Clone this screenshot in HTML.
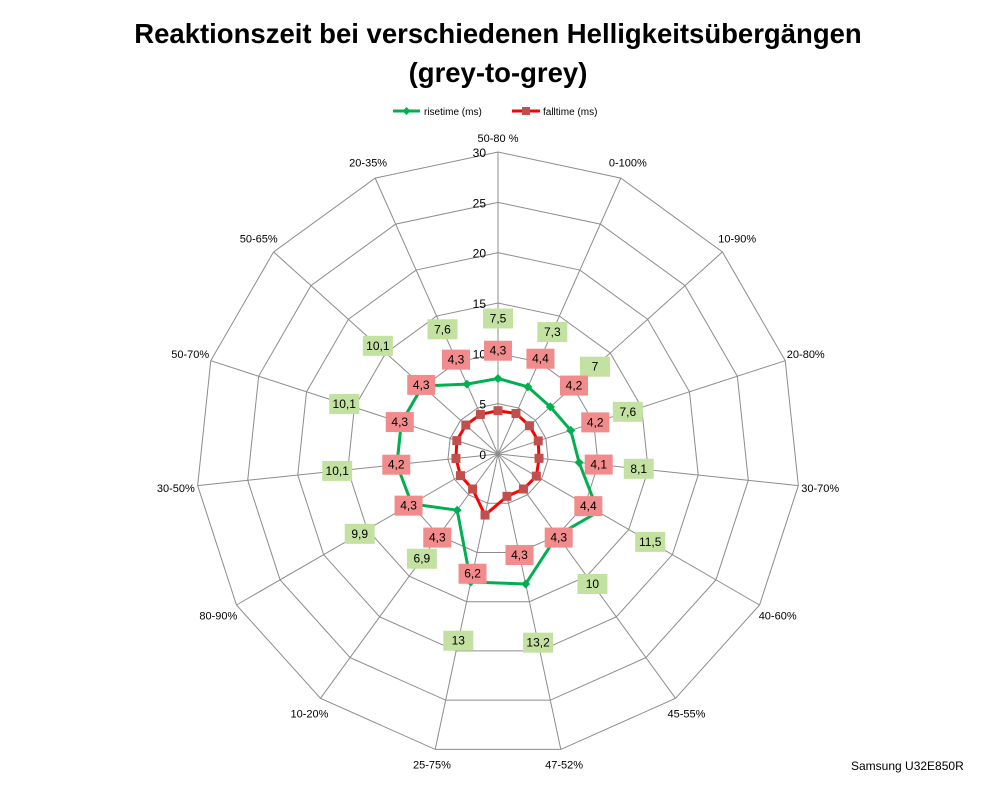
<!DOCTYPE html>
<html><head><meta charset="utf-8"><style>
body{margin:0;background:#fff;font-family:"Liberation Sans",sans-serif}
svg{display:block}
</style></head><body>
<svg id="chart" width="998" height="786" viewBox="0 0 998 786" xmlns="http://www.w3.org/2000/svg">
<text x="498" y="43" text-anchor="middle" font-size="27.5" font-weight="bold" font-family="Liberation Sans, sans-serif">Reaktionszeit bei verschiedenen Helligkeitsübergängen</text>
<text x="498" y="82" text-anchor="middle" font-size="27.5" font-weight="bold" font-family="Liberation Sans, sans-serif">(grey-to-grey)</text>
<g font-size="10">
<line x1="393" y1="111" x2="420" y2="111" stroke="#00b050" stroke-width="3"/>
<path d="M406.5 107 L410.5 111 L406.5 115 L402.5 111Z" fill="#00b050"/>
<text x="424" y="115">risetime (ms)</text>
<line x1="512" y1="111" x2="540" y2="111" stroke="#ff0000" stroke-width="3"/>
<rect x="522" y="107" width="8" height="8" fill="#c0504d"/>
<text x="543" y="115">falltime (ms)</text>
</g>
<g id="plot"></g>
<text x="851" y="770" font-size="12">Samsung U32E850R</text>
</svg>
<script>
const categories=["50-80 %","0-100%","10-90%","20-80%","30-70%","40-60%","45-55%","47-52%","25-75%","10-20%","80-90%","30-50%","50-70%","50-65%","20-35%"];
const riseValues=[7.5,7.3,7,7.6,8.1,11.5,10,13.2,13,6.9,9.9,10.1,10.1,10.1,7.6];
const fallValues=[4.3,4.4,4.2,4.2,4.1,4.4,4.3,4.3,6.2,4.3,4.3,4.2,4.3,4.3,4.3];
const tickLabels=[0,5,10,15,20,25,30];
const cx=498,cy=454,R=302,maxV=30,N=categories.length;
const ns="http://www.w3.org/2000/svg";
const g=document.getElementById('plot');
function ang(i){return -Math.PI/2+i*2*Math.PI/N;}
function pt(i,v){const r=v/maxV*R;return [cx+r*Math.cos(ang(i)),cy+r*Math.sin(ang(i))];}
function mk(t,a){const e=document.createElementNS(ns,t);for(const k in a)e.setAttribute(k,a[k]);g.appendChild(e);return e;}
tickLabels.forEach(t=>{if(t===0)return;
 const p=categories.map((c,i)=>pt(i,t).join(',')).join(' ');
 const e=mk('polygon',{points:p,fill:'none',stroke:'#8c8c8c','stroke-width':1});
 
 });
categories.forEach((c,i)=>{const p=pt(i,maxV);
 const e=mk('line',{x1:cx,y1:cy,x2:p[0],y2:p[1],stroke:'#8c8c8c','stroke-width':1});
 
 
 const a=ang(i);const r=R+14+8*Math.abs(Math.cos(a));
 const tx=mk('text',{x:cx+r*Math.cos(a),y:cy+r*Math.sin(a)+4,'text-anchor':'middle','font-size':11});
 tx.textContent=c;
 
 });
tickLabels.forEach(t=>{const y=cy-t/maxV*R;
 const e=mk('text',{x:cx-12,y:y+5,'text-anchor':'end','font-size':12});
 e.textContent=t;
 
 });
function series(vals,color,mcol,name,shape){
 const p=vals.map((v,i)=>pt(i,v).join(',')).join(' ');
 const l=mk('polygon',{points:p,fill:'none',stroke:color,'stroke-width':3,'stroke-linejoin':'round'});
 
 
 vals.forEach((v,i)=>{const [x,y]=pt(i,v);let m;
  if(shape==='d')m=mk('path',{d:`M${x} ${y-4.5}L${x+4.5} ${y}L${x} ${y+4.5}L${x-4.5} ${y}Z`,fill:mcol});
  else m=mk('rect',{x:x-4.5,y:y-4.5,width:9,height:9,fill:mcol});
  
  });
}
function labels(vals,fill,name,w){
 vals.forEach((v,i)=>{const r=v/maxV*R+60,a=ang(i);const x=cx+r*Math.cos(a),y=cy+r*Math.sin(a);
  const b=mk('rect',{x:x-w/2,y:y-10,width:w,height:20,fill:fill});
  
  
  const t=mk('text',{x:x,y:y+4,'text-anchor':'middle','font-size':12});
  t.textContent=String(v).replace('.',',');
  
  });
}
series(riseValues,'#00b050','#00b050','risetime','d');
series(fallValues,'#ff0000','#c0504d','falltime','s');
labels(riseValues,'#c3e1a0','risetime',30);
labels(fallValues,'#f28b8b','falltime',28);
</script>
</body></html>
